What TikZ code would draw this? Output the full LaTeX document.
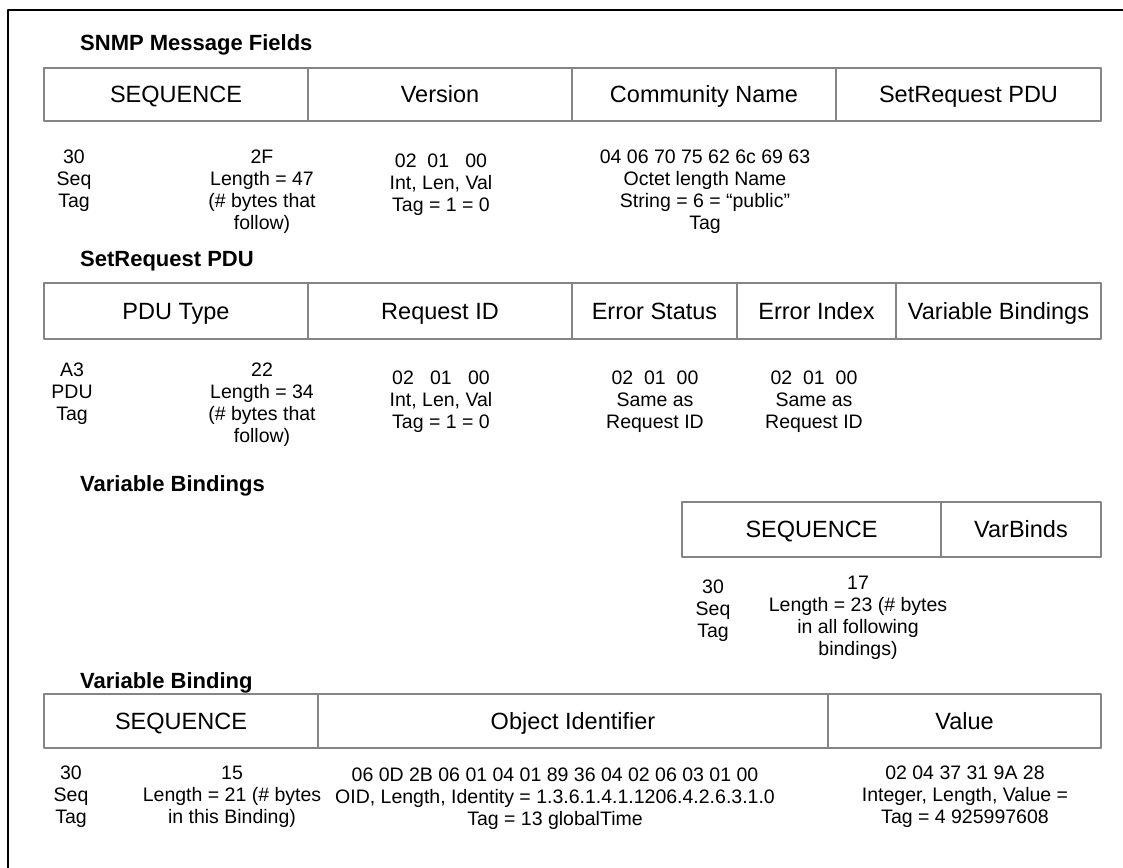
\documentclass[tikz,border=0pt]{standalone}
\usepackage{fontspec}
\setmainfont{Liberation Sans}

\begin{document}
\begin{tikzpicture}[
  x=1pt, y=-1pt,
  line join=round,
  font=\fontsize{19.5}{22}\selectfont,
  frame/.style={draw=black, line width=2.8pt},
  cell/.style={draw=black!48, line width=1.3pt, anchor=north west, inner sep=0pt, outer sep=0pt,
    text height=16.2pt, text depth=0pt, font=\fontsize{23.5}{26}\selectfont},
  title/.style={anchor=base west, inner sep=0pt, font=\fontsize{22}{26}\selectfont\bfseries},
  bytes/.style={anchor=north, inner sep=0pt, align=center}
]

\useasboundingbox (0,0) rectangle (1123,867);
\fill[white] (0,0) rectangle (1123,867);

% Outer frame, cut by the page edge.
\draw[frame] (8,880) -- (8,10) -- (1140,10);

% SNMP message fields.
\node[title] (msgTitle) at (80,51) {SNMP Message Fields};
\foreach \nm/\xa/\xb/\txt in {msgSeq/44/308/SEQUENCE, msgVer/308/572/Version,
    msgCom/572/836/Community Name, msgPdu/836/1101/SetRequest PDU}{
  \node[cell, minimum width={(\xb-\xa)*1pt}, minimum height=53pt] (\nm) at (\xa,68) {\txt};
}
\node[bytes] (msgTag) at (74,150) {30\\Seq\\Tag};
\node[bytes] (msgLen) at (262,150) {2F\\Length = 47\\(\# bytes that\\follow)};
\node[bytes] (msgVerVal) at (441,154) {02\ \ 01\ \ \ 00\\Int, Len, Val\\Tag = 1 = 0};
\node[bytes] (msgComVal) at (705,150)
  {04 06 70 75 62 6c 69 63\\Octet length Name\\String = 6 = “public”\\Tag};

% SetRequest PDU.
\node[title] (pduTitle) at (80,266) {SetRequest PDU};
\foreach \nm/\xa/\xb/\txt in {pduType/44/308/PDU Type, pduReq/308/572/Request ID,
    pduErrSt/572/737/Error Status, pduErrIdx/737/896/Error Index,
    pduVbs/896/1101/Variable Bindings}{
  \node[cell, minimum width={(\xb-\xa)*1pt}, minimum height=56pt] (\nm) at (\xa,283) {\txt};
}
\node[bytes] (pduTag) at (72,363) {A3\\PDU\\Tag};
\node[bytes] (pduLen) at (262,363) {22\\Length = 34\\(\# bytes that\\follow)};
\node[bytes] (pduReqVal) at (441,371) {02\ \ \ 01\ \ \ 00\\Int, Len, Val\\Tag = 1 = 0};
\node[bytes] (pduErrStVal) at (655,371) {02\ \ 01\ \ 00\\Same as\\Request ID};
\node[bytes] (pduErrIdxVal) at (814,371) {02\ \ 01\ \ 00\\Same as\\Request ID};

% Variable bindings.
\node[title] (vbsTitle) at (80,491) {Variable Bindings};
\foreach \nm/\xa/\xb/\txt in {vbsSeq/682/941/SEQUENCE, vbsBinds/941/1101/VarBinds}{
  \node[cell, minimum width={(\xb-\xa)*1pt}, minimum height=55pt] (\nm) at (\xa,502) {\txt};
}
\node[bytes] (vbsTag) at (713,580) {30\\Seq\\Tag};
\node[bytes] (vbsLen) at (858,576) {17\\Length = 23 (\# bytes\\in all following\\bindings)};

% One variable binding.
\node[title] (vbTitle) at (80,688) {Variable Binding};
\foreach \nm/\xa/\xb/\txt in {vbSeq/44/318/SEQUENCE, vbOid/318/828/Object Identifier,
    vbVal/828/1101/Value}{
  \node[cell, minimum width={(\xb-\xa)*1pt}, minimum height=54pt] (\nm) at (\xa,694) {\txt};
}
\node[bytes] (vbTag) at (71,766) {30\\Seq\\Tag};
\node[bytes] (vbLen) at (232,766) {15\\Length = 21 (\# bytes\\in this Binding)};
\node[bytes] (vbOidVal) at (555,768)
  {06 0D 2B 06 01 04 01 89 36 04 02 06 03 01 00\\OID, Length, Identity = 1.3.6.1.4.1.1206.4.2.6.3.1.0\\Tag = 13 globalTime};
\node[bytes] (vbValVal) at (965,766) {02 04 37 31 9A 28\\Integer, Length, Value =\\Tag = 4 925997608};

\end{tikzpicture}
\end{document}
